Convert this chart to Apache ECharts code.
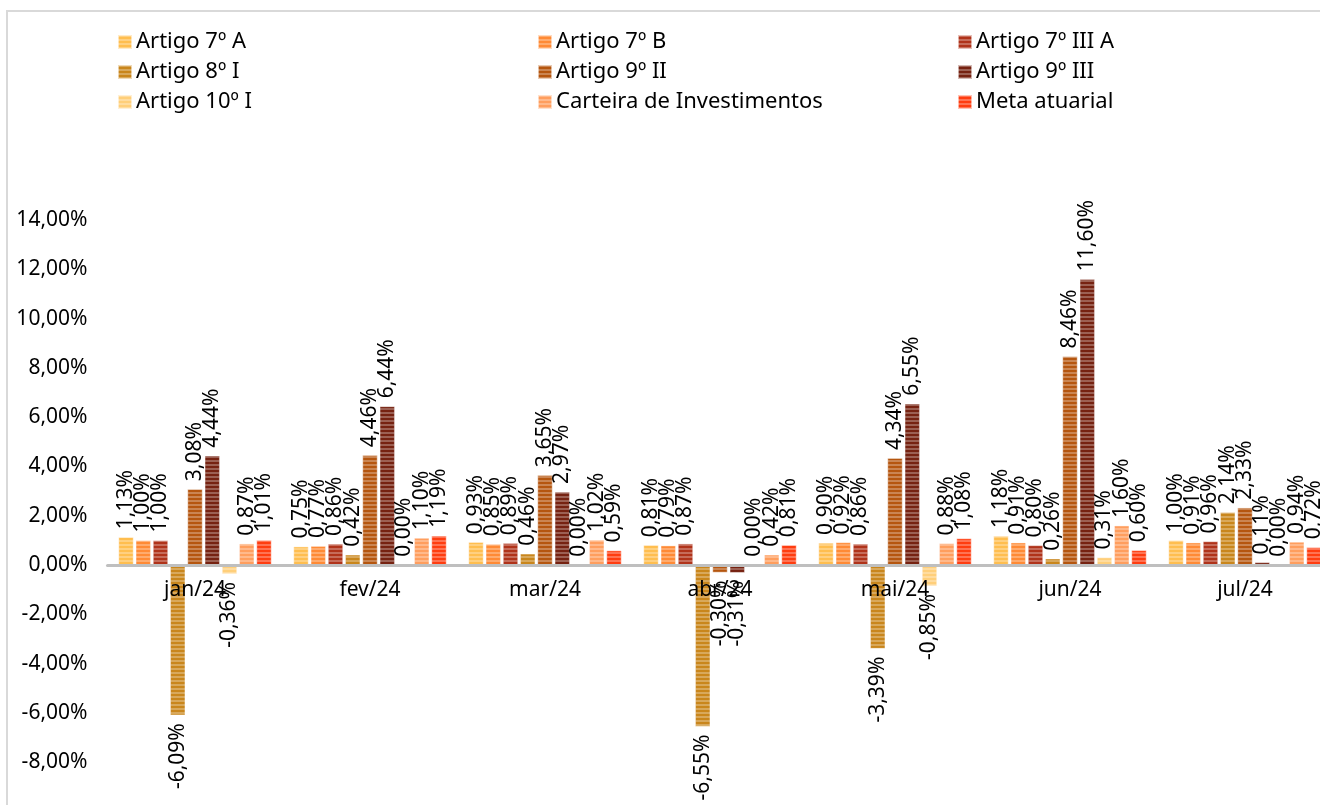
<!DOCTYPE html>
<html>
<head>
<meta charset="utf-8">
<script src="https://cdn.jsdelivr.net/npm/echarts@6/dist/echarts.min.js"></script>
<style>
  html, body { margin: 0; padding: 0; background: #fff; }
  #chart { width: 1320px; height: 805px; }
</style>
</head>
<body>
<div id="chart"></div>
<script>
// Monthly returns by investment segment (%)
const months = ['jan/24', 'fev/24', 'mar/24', 'abr/24', 'mai/24', 'jun/24', 'jul/24'];
const seriesNames = [
  'Artigo 7º A', 'Artigo 7º B', 'Artigo 7º III A',
  'Artigo 8º I', 'Artigo 9º II', 'Artigo 9º III',
  'Artigo 10º I', 'Carteira de Investimentos', 'Meta atuarial'
];
const art7A    = [1.13, 0.75, 0.93, 0.81, 0.90, 1.18, 1.00];
const art7B    = [1.00, 0.77, 0.85, 0.79, 0.92, 0.91, 0.91];
const art7IIIA = [1.00, 0.86, 0.89, 0.87, 0.86, 0.80, 0.96];
const art8I    = [-6.09, 0.42, 0.46, -6.55, -3.39, 0.26, 2.14];
const art9II   = [3.08, 4.46, 3.65, -0.30, 4.34, 8.46, 2.33];
const art9III  = [4.44, 6.44, 2.97, -0.31, 6.55, 11.60, 0.11];
const art10I   = [-0.36, 0.00, 0.00, 0.00, -0.85, 0.31, 0.00];
const carteira = [0.87, 1.10, 1.02, 0.42, 0.88, 1.60, 0.94];
const meta     = [1.01, 1.19, 0.59, 0.81, 1.08, 0.60, 0.72];
const yTicks = { min: -10, max: 14, interval: 2 };

const values = [art7A, art7B, art7IIIA, art8I, art9II, art9III, art10I, carteira, meta];
const colors = ['#FFBE4F', '#FF8A35', '#B0331A', '#C9861C', '#B5560F', '#762211', '#FFCF7A', '#FF9E5E', '#FF3D10'];

const FONT = 'Noto Sans';
const pct = v => v.toFixed(2).replace('.', ',') + '%';

// plot area geometry
const GRID_TOP = 220;
const GRID_H = 591.6;
const zeroOffset = GRID_H * (0 - yTicks.min) / (yTicks.max - yTicks.min);

const stripes = {
  symbol: 'rect',
  symbolSize: 1,
  dashArrayX: [1, 0],
  dashArrayY: [1.6, 1.6],
  color: 'rgba(255,255,255,0.28)'
};

const labelBase = {
  show: true,
  rotate: 90,
  fontFamily: FONT,
  fontSize: 21,
  color: '#000',
  verticalAlign: 'middle',
  distance: 8,
  formatter: p => pct(p.value)
};

const series = seriesNames.map((name, i) => ({
  name,
  type: 'bar',
  barWidth: 15,
  barGap: '15%',
  itemStyle: { color: colors[i], decal: stripes, borderColor: 'rgba(255,255,255,0.35)', borderWidth: 0.6 },
  label: labelBase,
  data: values[i].map(v => ({
    value: v,
    label: v < 0 ? { position: 'bottom', align: 'right' } : { position: 'top', align: 'left' }
  }))
}));

const legendCol = (names, left) => ({
  orient: 'vertical',
  left,
  top: 31,
  padding: 0,
  itemWidth: 14,
  itemHeight: 14,
  itemGap: 8,
  icon: 'rect',
  textStyle: { fontFamily: FONT, fontSize: 22, color: '#000', padding: [0, 0, 0, -1] },
  data: names
});

const chart = echarts.init(document.getElementById('chart'), null, { renderer: 'canvas' });
chart.setOption({
  animation: false,
  backgroundColor: '#fff',
  textStyle: { fontFamily: FONT },
  legend: [
    legendCol([seriesNames[0], seriesNames[3], seriesNames[6]], 117),
    legendCol([seriesNames[1], seriesNames[4], seriesNames[7]], 537),
    legendCol([seriesNames[2], seriesNames[5], seriesNames[8]], 957)
  ],
  grid: { left: 107.5, top: GRID_TOP, width: 1225, height: GRID_H, containLabel: false, outerBoundsMode: 'none' },
  xAxis: {
    type: 'category',
    data: months,
    offset: -zeroOffset,
    z: 5,
    axisTick: { show: false },
    axisLine: { onZero: false, lineStyle: { color: '#BFBFBF', width: 3 } },
    axisLabel: { fontFamily: FONT, fontSize: 21, color: '#000', margin: 14 }
  },
  yAxis: {
    type: 'value',
    min: yTicks.min,
    max: yTicks.max,
    interval: yTicks.interval,
    splitLine: { show: false },
    axisLine: { show: false },
    axisTick: { show: false },
    axisLabel: {
      fontFamily: FONT, fontSize: 21, color: '#000', margin: 20,
      formatter: v => v === yTicks.min ? '' : pct(v)
    }
  },
  graphic: [{
    type: 'rect',
    shape: { x: 7, y: 11, width: 1400, height: 900 },
    style: { fill: 'none', stroke: '#D9D9D9', lineWidth: 2 },
    silent: true,
    z: -1
  }],
  series
});
</script>
</body>
</html>
